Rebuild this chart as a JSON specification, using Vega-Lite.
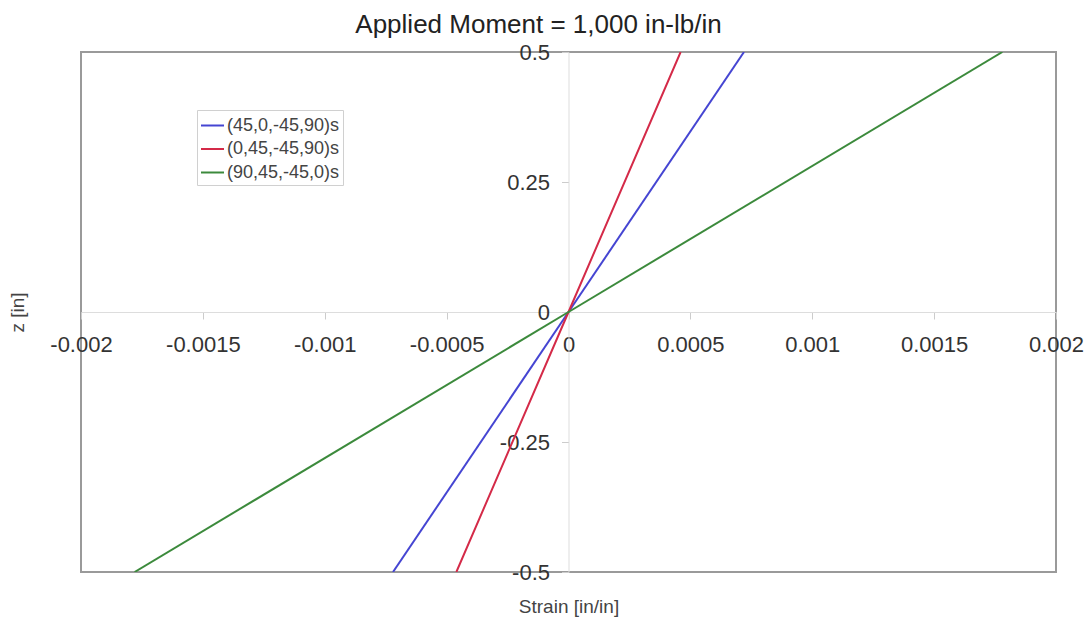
{
  "$schema": "https://vega.github.io/schema/vega-lite/v6.json",
  "autosize": "none",
  "width": 975,
  "height": 520,
  "padding": {"left": 81, "top": 52, "right": 33, "bottom": 50},
  "background": "white",
  "config": {
    "font": "Liberation Sans",
    "view": {"stroke": "#9a9a9a", "strokeWidth": 2}
  },
  "title": {
    "text": "Applied Moment = 1,000 in-lb/in",
    "fontSize": 26,
    "fontWeight": "normal",
    "color": "#222",
    "anchor": "middle",
    "frame": "group",
    "baseline": "bottom",
    "offset": -23,
    "dx": -30
  },
  "data": {
    "values": [
      {"strain": -0.00072, "z": -0.5, "layup": "(45,0,-45,90)s"},
      {"strain": 0, "z": 0, "layup": "(45,0,-45,90)s"},
      {"strain": 0.00072, "z": 0.5, "layup": "(45,0,-45,90)s"},
      {"strain": -0.00046, "z": -0.5, "layup": "(0,45,-45,90)s"},
      {"strain": 0, "z": 0, "layup": "(0,45,-45,90)s"},
      {"strain": 0.00046, "z": 0.5, "layup": "(0,45,-45,90)s"},
      {"strain": -0.00178, "z": -0.5, "layup": "(90,45,-45,0)s"},
      {"strain": 0, "z": 0, "layup": "(90,45,-45,0)s"},
      {"strain": 0.00178, "z": 0.5, "layup": "(90,45,-45,0)s"}
    ]
  },
  "mark": {"type": "line", "strokeWidth": 2, "clip": true},
  "encoding": {
    "x": {
      "field": "strain",
      "type": "quantitative",
      "scale": {"domain": [-0.002, 0.002], "nice": false, "zero": false},
      "axis": {
        "title": "Strain [in/in]",
        "titleFontSize": 19,
        "titleFontWeight": "normal",
        "titleColor": "#444",
        "titleBaseline": "middle",
        "titleY": 294,
        "offset": -260,
        "values": [-0.002, -0.0015, -0.001, -0.0005, 0, 0.0005, 0.001, 0.0015, 0.002],
        "labelExpr": "'' + datum.value",
        "labelFontSize": 22,
        "labelColor": "#333",
        "labelPadding": 15,
        "labelFlush": false,
        "labelOverlap": false,
        "ticks": true,
        "tickSize": 7,
        "tickColor": "#cccccc",
        "grid": false,
        "domainColor": "#dddddd",
        "domainWidth": 1
      }
    },
    "y": {
      "field": "z",
      "type": "quantitative",
      "scale": {"domain": [-0.5, 0.5], "nice": false, "zero": false},
      "axis": {
        "title": "z [in]",
        "titleFontSize": 19,
        "titleFontWeight": "normal",
        "titleColor": "#444",
        "titleAngle": -90,
        "titleBaseline": "middle",
        "titleAlign": "center",
        "titleX": -551,
        "titleY": 260,
        "offset": -487.5,
        "values": [-0.5, -0.25, 0, 0.25, 0.5],
        "labelExpr": "'' + datum.value",
        "labelFontSize": 22,
        "labelColor": "#333",
        "labelPadding": 12,
        "labelFlush": false,
        "labelOverlap": false,
        "ticks": true,
        "tickSize": 7,
        "tickColor": "#cccccc",
        "grid": false,
        "domainColor": "#dddddd",
        "domainWidth": 1
      }
    },
    "color": {
      "field": "layup",
      "type": "nominal",
      "scale": {
        "domain": ["(45,0,-45,90)s", "(0,45,-45,90)s", "(90,45,-45,0)s"],
        "range": ["#4545d2", "#d42a48", "#3c8a3c"]
      },
      "legend": {
        "title": null,
        "orient": "none",
        "legendX": 116,
        "legendY": 58,
        "symbolType": "stroke",
        "symbolSize": 529,
        "symbolStrokeWidth": 2,
        "labelFontSize": 18,
        "labelColor": "#444",
        "rowPadding": 1.5,
        "padding": 3,
        "strokeColor": "#d0d0d0",
        "fillColor": "white",
        "labelOffset": 2
      }
    }
  }
}
